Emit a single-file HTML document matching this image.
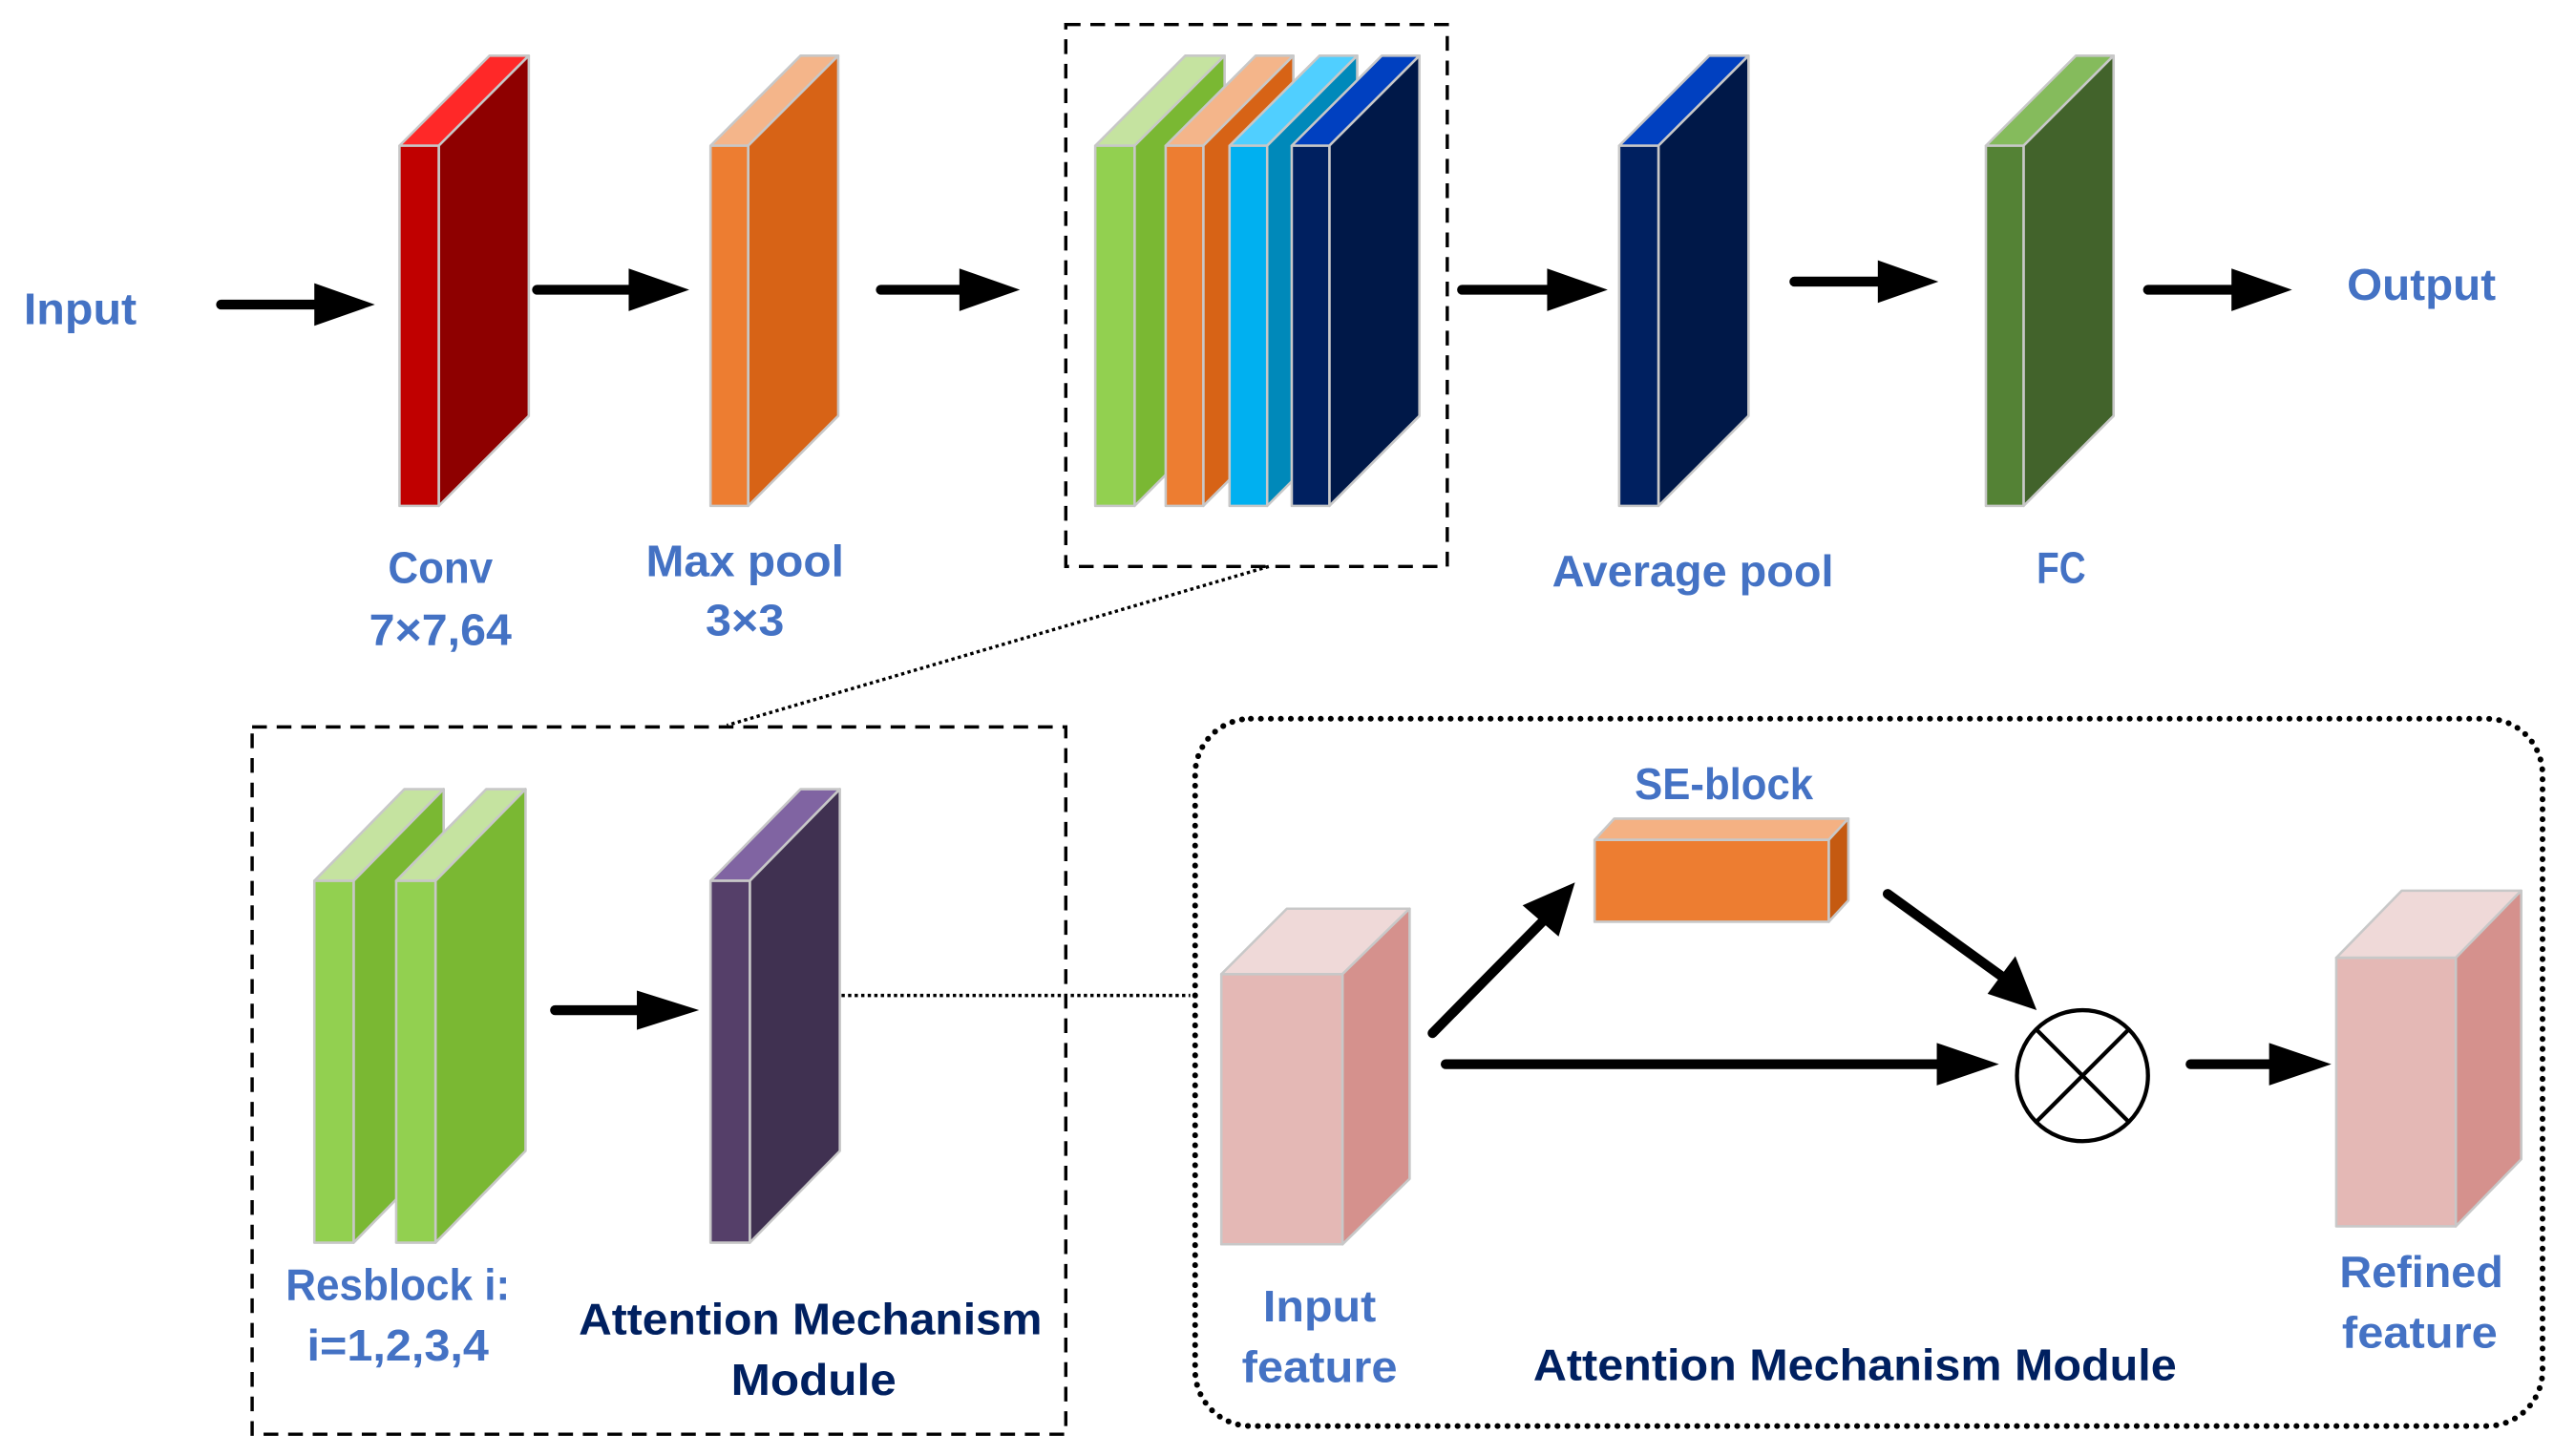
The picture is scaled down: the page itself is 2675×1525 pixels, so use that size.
<!DOCTYPE html>
<html><head><meta charset="utf-8"><style>html,body{margin:0;padding:0;background:#fff}svg{display:block}</style></head>
<body>
<svg width="2675" height="1525" viewBox="0 0 1560 889.3" preserveAspectRatio="none" xmlns="http://www.w3.org/2000/svg">
<defs>
<marker id="a" viewBox="0 0 10 10" refX="9" refY="5" markerWidth="1" markerHeight="1"><path d="M0 0L10 5L0 10z"/></marker>
</defs>
<g stroke="#c8c8c8" stroke-width="1.5" stroke-linejoin="round">
<!-- Conv -->
<polygon points="244,89 299,34 323,34 268,89" fill="#FF2828"/>
<polygon points="268,89 323,34 323,254 268,309" fill="#8E0000"/>
<rect x="244" y="89" width="24" height="220" fill="#C00000"/>
<!-- Max pool -->
<polygon points="434,89 489,34 512,34 457,89" fill="#F4B58A"/>
<polygon points="457,89 512,34 512,254 457,309" fill="#D76316"/>
<rect x="434" y="89" width="23" height="220" fill="#ED7D31"/>
<!-- stack -->
<polygon points="669,89 724,34 748,34 693,89" fill="#C5E3A0"/>
<polygon points="693,89 748,34 748,254 693,309" fill="#7AB833"/>
<rect x="669" y="89" width="24" height="220" fill="#92D050"/>
<polygon points="712,89 767,34 790,34 735,89" fill="#F4B58A"/>
<polygon points="735,89 790,34 790,254 735,309" fill="#D76316"/>
<rect x="712" y="89" width="23" height="220" fill="#ED7D31"/>
<polygon points="751,89 806,34 829,34 774,89" fill="#50CFFF"/>
<polygon points="774,89 829,34 829,254 774,309" fill="#0089BA"/>
<rect x="751" y="89" width="23" height="220" fill="#00B0F0"/>
<polygon points="789,89 844,34 867,34 812,89" fill="#0040C0"/>
<polygon points="812,89 867,34 867,254 812,309" fill="#001848"/>
<rect x="789" y="89" width="23" height="220" fill="#002060"/>
<!-- Average pool -->
<polygon points="989,89 1044,34 1068,34 1013,89" fill="#0040C0"/>
<polygon points="1013,89 1068,34 1068,254 1013,309" fill="#001848"/>
<rect x="989" y="89" width="24" height="220" fill="#002060"/>
<!-- FC -->
<polygon points="1213,89 1268,34 1291,34 1236,89" fill="#85BB5C"/>
<polygon points="1236,89 1291,34 1291,254 1236,309" fill="#42632B"/>
<rect x="1213" y="89" width="23" height="220" fill="#548235"/>
<!-- Resblocks -->
<polygon points="192,538 247,482 271,482 216,538" fill="#C5E3A0"/>
<polygon points="216,538 271,482 271,703 216,759" fill="#7AB833"/>
<rect x="192" y="538" width="24" height="221" fill="#92D050"/>
<polygon points="242,538 297,482 321,482 266,538" fill="#C5E3A0"/>
<polygon points="266,538 321,482 321,703 266,759" fill="#7AB833"/>
<rect x="242" y="538" width="24" height="221" fill="#92D050"/>
<!-- purple -->
<polygon points="434,538 489,482 513,482 458,538" fill="#8064A2"/>
<polygon points="458,538 513,482 513,703 458,759" fill="#403151"/>
<rect x="434" y="538" width="24" height="221" fill="#553F69"/>
<!-- input feature -->
<polygon points="746,595 786,555 861,555 820,595" fill="#EFD9D8"/>
<polygon points="820,595 861,555 861,720 820,760" fill="#D5918D"/>
<rect x="746" y="595" width="74" height="165" fill="#E4B8B5"/>
<!-- refined -->
<polygon points="1427,585 1467,544 1540,544 1500,585" fill="#EFD9D8"/>
<polygon points="1500,585 1540,544 1540,708 1500,749" fill="#D5918D"/>
<rect x="1427" y="585" width="73" height="164" fill="#E4B8B5"/>
<!-- SE block -->
<polygon points="974,513 986,500 1129,500 1117,513" fill="#F4B183"/>
<polygon points="1117,513 1129,500 1129,550 1117,563" fill="#C55A11"/>
<rect x="974" y="513" width="143" height="50" fill="#ED7D31"/>
</g>
<!-- dashed boxes -->
<rect x="651" y="15" width="233" height="331" fill="none" stroke="#000" stroke-width="2" stroke-dasharray="9,6"/>
<rect x="154" y="444" width="497" height="432" fill="none" stroke="#000" stroke-width="2" stroke-dasharray="9,6"/>
<rect x="730" y="439" width="823" height="432" rx="34" fill="none" stroke="#000" stroke-width="3.5" stroke-dasharray="0.1,6" stroke-linecap="round"/>
<line x1="775" y1="346" x2="444" y2="443" stroke="#000" stroke-width="2" stroke-dasharray="2,2"/>
<line x1="514" y1="608" x2="727" y2="608" stroke="#000" stroke-width="2" stroke-dasharray="2,2"/>
<!-- arrows -->
<g stroke="#000" stroke-width="6" stroke-linecap="round">
<line x1="135" y1="186" x2="195" y2="186"/>
<line x1="328" y1="177" x2="388" y2="177"/>
<line x1="538" y1="177" x2="590" y2="177"/>
<line x1="893" y1="177" x2="949" y2="177"/>
<line x1="1096" y1="172" x2="1151" y2="172"/>
<line x1="1312" y1="177" x2="1367" y2="177"/>
<line x1="339" y1="617" x2="392" y2="617"/>
<line x1="883" y1="650" x2="1187" y2="650"/>
<line x1="1338" y1="650" x2="1390" y2="650"/>
<line x1="875" y1="631" x2="945" y2="560"/>
<line x1="1153" y1="546" x2="1225" y2="598"/>
</g>
<g fill="#000">
<polygon points="192,173 229,186 192,199"/>
<polygon points="384,164 421,177 384,190"/>
<polygon points="586,164 623,177 586,190"/>
<polygon points="945,164 982,177 945,190"/>
<polygon points="1147,159 1184,172 1147,185"/>
<polygon points="1363,164 1400,177 1363,190"/>
<polygon points="389,605 427,617 389,629"/>
<polygon points="1183,637 1221,650 1183,663"/>
<polygon points="1386,637 1424,650 1386,663"/>
<polygon points="930,553 962,539 952,572"/>
<polygon points="1214,607 1244,617 1231,584"/>
</g>
<!-- circle -->
<circle cx="1272" cy="657" r="40" fill="#fff" stroke="#000" stroke-width="2.5"/>
<line x1="1244" y1="629" x2="1300" y2="685" stroke="#000" stroke-width="2.5"/>
<line x1="1300" y1="629" x2="1244" y2="685" stroke="#000" stroke-width="2.5"/>
<!-- labels -->
<g font-family="Liberation Sans, sans-serif" font-weight="bold" font-size="27" fill="#4472C4" text-anchor="middle" lengthAdjust="spacingAndGlyphs">
<text x="49" y="198" textLength="69" lengthAdjust="spacingAndGlyphs">Input</text>
<text x="269" y="356" textLength="64" lengthAdjust="spacingAndGlyphs">Conv</text>
<text x="269" y="394" textLength="87" lengthAdjust="spacingAndGlyphs">7×7,64</text>
<text x="455" y="352" textLength="121" lengthAdjust="spacingAndGlyphs">Max pool</text>
<text x="455" y="388" textLength="48" lengthAdjust="spacingAndGlyphs">3×3</text>
<text x="1034" y="358" textLength="172" lengthAdjust="spacingAndGlyphs">Average pool</text>
<text x="1259" y="356" textLength="30" lengthAdjust="spacingAndGlyphs">FC</text>
<text x="1479" y="183" textLength="91" lengthAdjust="spacingAndGlyphs">Output</text>
<text x="243" y="794" textLength="137" lengthAdjust="spacingAndGlyphs">Resblock i:</text>
<text x="243" y="831" textLength="111" lengthAdjust="spacingAndGlyphs">i=1,2,3,4</text>
<text x="1053" y="488" textLength="109" lengthAdjust="spacingAndGlyphs">SE-block</text>
<text x="806" y="807" textLength="69" lengthAdjust="spacingAndGlyphs">Input</text>
<text x="806" y="844" textLength="95" lengthAdjust="spacingAndGlyphs">feature</text>
<text x="1479" y="786" textLength="100" lengthAdjust="spacingAndGlyphs">Refined</text>
<text x="1478" y="823" textLength="95" lengthAdjust="spacingAndGlyphs">feature</text>
</g>
<g font-family="Liberation Sans, sans-serif" font-weight="bold" font-size="27" fill="#002060" text-anchor="middle">
<text x="495" y="815" textLength="283" lengthAdjust="spacingAndGlyphs">Attention Mechanism</text>
<text x="497" y="852" textLength="101" lengthAdjust="spacingAndGlyphs">Module</text>
<text x="1133" y="843" textLength="393" lengthAdjust="spacingAndGlyphs">Attention Mechanism Module</text>
</g>
</svg>
</body></html>
